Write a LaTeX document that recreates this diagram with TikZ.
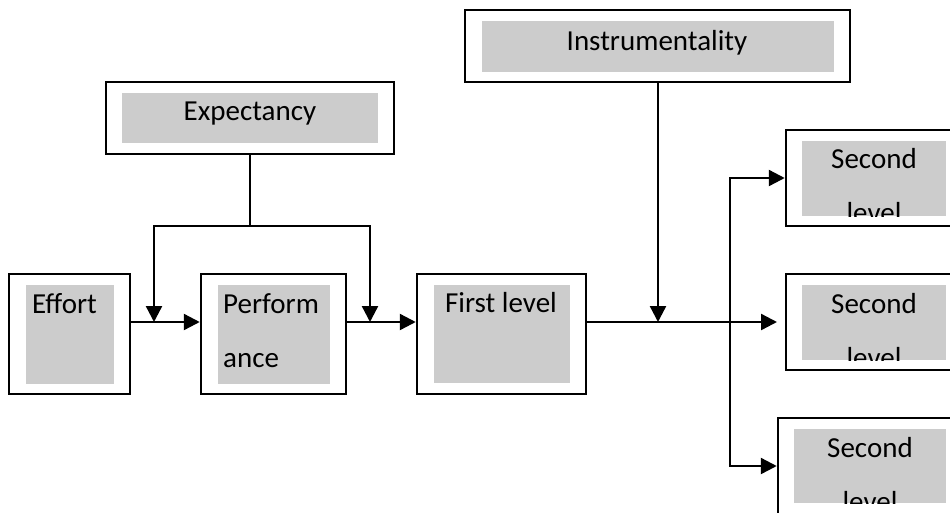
\documentclass[tikz,border=0pt]{standalone}
\usepackage{fontspec}
\setmainfont{Carlito}
\usetikzlibrary{arrows.meta}
\definecolor{shade}{RGB}{204,204,204}
\begin{document}
\begin{tikzpicture}[x=1pt,y=-1pt,
  frame/.style={draw=black,line width=2.5pt,fill=white,inner sep=0pt},
  panel/.style={fill=shade,draw=none,inner sep=0pt},
  label/.style={inner sep=0pt,font=\fontsize{29}{54}\selectfont},
  link/.style={line width=2.4pt},
  arr/.style={link,-{Triangle[length=16pt,width=16pt]}},
  twoarr/.style={link,{Triangle[length=16pt,width=16pt]}-{Triangle[length=16pt,width=16pt]}}]
\useasboundingbox (0,0) rectangle (950,512);
\clip (0,0) rectangle (950,512);

% outer frames
\node[frame,minimum width=121pt,minimum height=120pt] (eff) at (69.5,334) {};
\node[frame,minimum width=145pt,minimum height=120pt] (perf) at (273.5,334) {};
\node[frame,minimum width=169pt,minimum height=120pt] (first) at (501.5,334) {};
\node[frame,minimum width=288pt,minimum height=72pt] (exp) at (250,118) {};
\node[frame,minimum width=385pt,minimum height=72pt] (inst) at (657.5,46) {};
\node[frame,minimum width=176pt,minimum height=96pt] (sa) at (874,178) {};
\node[frame,minimum width=176pt,minimum height=96pt] (sb) at (874,322) {};
\node[frame,minimum width=184pt,minimum height=96pt] (sc) at (870,466) {};

% shaded panels inside the frames
\node[panel,minimum width=88pt,minimum height=99pt] (effp) at (70,334.5) {};
\node[panel,minimum width=112pt,minimum height=99pt] (perfp) at (274,334.5) {};
\node[panel,minimum width=136pt,minimum height=98pt] (firstp) at (502,334) {};
\node[panel,minimum width=256pt,minimum height=50pt] (expp) at (250,118) {};
\node[panel,minimum width=352pt,minimum height=51pt] (instp) at (658,46.5) {};
\node[panel,minimum width=144pt,minimum height=75pt] (sap) at (874,178.5) {};
\node[panel,minimum width=144pt,minimum height=75pt] (sbp) at (874,322.5) {};
\node[panel,minimum width=152pt,minimum height=74pt] (scp) at (870,466) {};

% texts
\node[label,anchor=base west] (efft) at (32,313) {Effort};
\node[label,anchor=base west] (perft1) at (223,313) {Perform};
\node[label,anchor=base west] (perft2) at (223,367) {ance};
\node[label,anchor=base] (firstt) at (501,312) {First level};
\node[label,anchor=base] (expt) at (250,120) {Expectancy};
\node[label,anchor=base] (instt) at (657,50) {Instrumentality};
\node[label,anchor=base] (sat1) at (874,168) {Second};
\node[label,anchor=base] (sbt1) at (874,313) {Second};
\node[label,anchor=base] (sct1) at (870,457) {Second};
\begin{scope}
  \clip (sap.north west) rectangle (sap.south east);
  \node[label,anchor=base] (sat2) at (874,222) {level};
\end{scope}
\begin{scope}
  \clip (sbp.north west) rectangle (sbp.south east);
  \node[label,anchor=base] (sbt2) at (874,367) {level};
\end{scope}
\begin{scope}
  \clip (scp.north west) rectangle (scp.south east);
  \node[label,anchor=base] (sct2) at (870,511) {level};
\end{scope}

% connector points
\coordinate (row) at (0,322);
\coordinate (ja) at (154,322);
\coordinate (jb) at (370,322);
\coordinate (split) at (250,226);
\coordinate (ji) at (658,322);
\coordinate (fan) at (730,322);
\coordinate (sbin) at (777,322);

% connectors
\draw[arr] (eff.east |- row) -- (perf.west |- row);
\draw[arr] (perf.east |- row) -- (first.west |- row);
\draw[link] (exp.south) -- (split);
\draw[arr] (split) -| (ja);
\draw[arr] (split) -| (jb);
\draw[arr] (inst.south -| ji) -- (ji);
\draw[arr] (first.east |- row) -- (sbin);
\draw[twoarr] (sa.west) -- (sa.west -| fan) -- (sc.west -| fan) -- (sc.west);
\end{tikzpicture}
\end{document}
